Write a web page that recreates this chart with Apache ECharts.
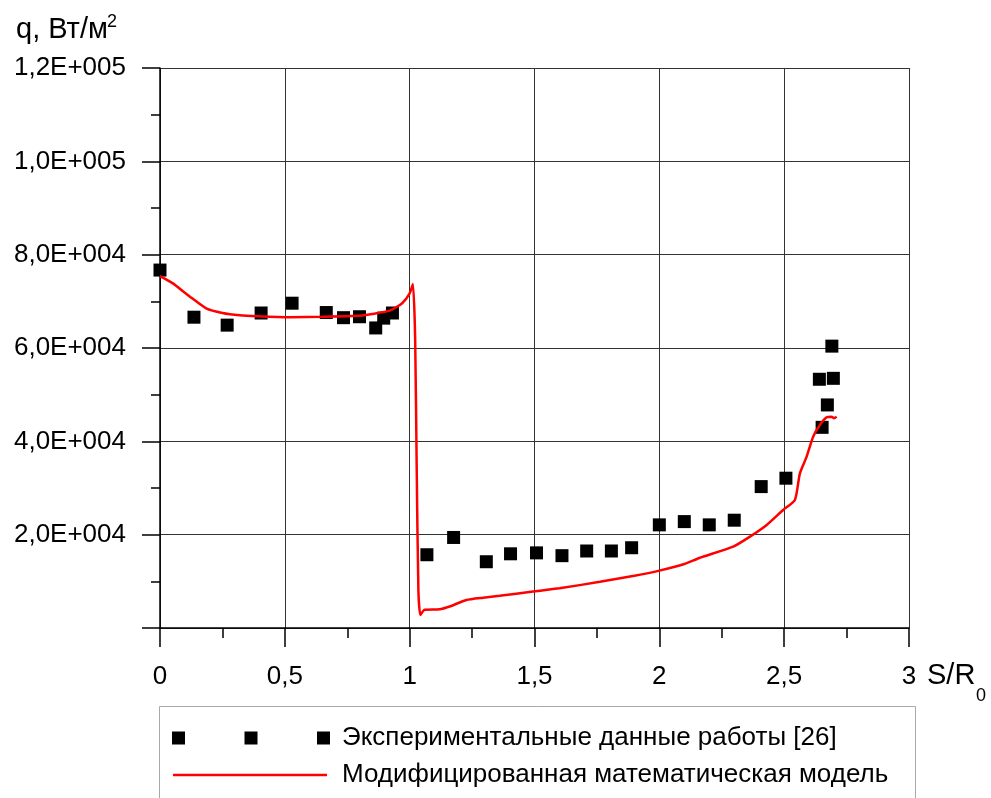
<!DOCTYPE html>
<html>
<head>
<meta charset="utf-8">
<script src="https://cdn.jsdelivr.net/npm/echarts@6/dist/echarts.min.js"></script>
<style>
  html, body { margin: 0; padding: 0; background: #fff; }
  #chart { width: 991px; height: 798px; }
</style>
</head>
<body>
<div id="chart"></div>
<script>
// Experimental points: S/R0 and heat flux q, W/m2
const expX = [0, 0.136, 0.269, 0.405, 0.529, 0.666, 0.735, 0.799, 0.864, 0.896, 0.931,
  1.069, 1.176, 1.307, 1.404, 1.508, 1.61, 1.709, 1.808, 1.889, 2.0, 2.1, 2.2, 2.3,
  2.408, 2.507, 2.641, 2.652, 2.673, 2.691, 2.697];
const expY = [76700, 66600, 64900, 67500, 69600, 67600, 66500, 66700, 64300, 66400, 67500,
  15700, 19400, 14200, 15900, 16100, 15500, 16500, 16500, 17200, 22100, 22800, 22100, 23100,
  30300, 32100, 53300, 43000, 47800, 60400, 53500];

// Modified mathematical model curve
const modelX = [0.0, 0.05, 0.12, 0.185, 0.25, 0.32, 0.39, 0.52, 0.65, 0.79, 0.85, 0.92, 0.97,
  1.0, 1.013, 1.022, 1.028, 1.035, 1.043, 1.06, 1.12, 1.16, 1.227, 1.294, 1.36, 1.494, 1.6,
  1.762, 1.9, 2.0, 2.1, 2.16, 2.296, 2.363, 2.43, 2.496, 2.543, 2.563, 2.59, 2.616, 2.643,
  2.67, 2.69, 2.7, 2.71];
const modelY = [75400, 73900, 71000, 68500, 67500, 67000, 66800, 66600, 66700, 66900, 67300,
  68000, 69600, 71700, 73700, 62000, 35000, 8000, 2800, 3900, 4000, 4600, 6000, 6500, 6900,
  7800, 8500, 9900, 11200, 12300, 13700, 15000, 17430, 19570, 22070, 25290, 27430, 33150,
  36710, 41000, 43500, 45150, 45290, 44940, 45290];

const xTickLabels = ['0', '0,5', '1', '1,5', '2', '2,5', '3'];
const yTickLabels = ['', '2,0E+004', '4,0E+004', '6,0E+004', '8,0E+004', '1,0E+005', '1,2E+005'];

const seriesNames = ['Экспериментальные данные работы [26]', 'Модифицированная математическая модель'];

const FONT = 'Liberation Sans';
const FS = 26;

const chart = echarts.init(document.getElementById('chart'), null, { renderer: 'canvas' });

chart.setOption({
  animation: false,
  backgroundColor: '#ffffff',
  textStyle: { fontFamily: FONT },
  grid: { left: 160, right: 82, top: 68, bottom: 170, containLabel: false },
  xAxis: {
    type: 'value', min: 0, max: 3, interval: 0.5,
    axisLine: { show: true, onZero: false, lineStyle: { color: '#000', width: 1.5 } },
    axisTick: { show: true, length: 19, lineStyle: { color: '#000', width: 1.5 } },
    minorTick: { show: true, splitNumber: 2, length: 10, lineStyle: { color: '#000', width: 1.5 } },
    splitLine: { show: true, lineStyle: { color: '#333', width: 1 } },
    axisLabel: {
      margin: 36, color: '#000', fontSize: FS, fontFamily: FONT,
      formatter: (v) => xTickLabels[Math.round(v / 0.5)]
    }
  },
  yAxis: {
    type: 'value', min: 0, max: 120000, interval: 20000,
    axisLine: { show: true, onZero: false, lineStyle: { color: '#000', width: 1.5 } },
    axisTick: { show: true, length: 18, lineStyle: { color: '#000', width: 1.5 } },
    minorTick: { show: true, splitNumber: 2, length: 9, lineStyle: { color: '#000', width: 1.5 } },
    splitLine: { show: true, lineStyle: { color: '#333', width: 1 } },
    axisLabel: {
      margin: 34, color: '#000', fontSize: FS, fontFamily: FONT,
      formatter: (v) => yTickLabels[Math.round(v / 20000)]
    }
  },
  legend: {
    orient: 'vertical',
    left: 172, top: 725,
    padding: 0,
    itemWidth: 158, itemHeight: 13, itemGap: 11,
    selectedMode: false,
    textStyle: { fontSize: FS, lineHeight: 25, color: '#000', fontFamily: FONT, padding: [0, 0, 0, 7] },
    data: [
      // three square markers spread across the icon box
      { name: seriesNames[0], icon: 'path://M0,0h13v13h-13z M72.5,0h13v13h-13z M145,0h13v13h-13z' },
      // thin line segment; the outer move-to points keep the icon box at full height
      { name: seriesNames[1], icon: 'path://M0,0 M1,5.25h154v2.6h-154z M158,13' }
    ]
  },
  graphic: [
    {
      type: 'rect', left: 159, top: 706, z: -1,
      shape: { width: 756, height: 140 },
      style: { fill: '#fff', stroke: '#a8a8a8', lineWidth: 1 }
    },
    {
      type: 'text', left: 16, top: 15,
      style: { text: 'q, Вт/м', fontSize: 29, fontFamily: FONT, fill: '#000' }
    },
    {
      type: 'text', left: 107, top: 13,
      style: { text: '2', fontSize: 18, fontFamily: FONT, fill: '#000' }
    },
    {
      type: 'text', left: 927, top: 661,
      style: { text: 'S/R', fontSize: 29, fontFamily: FONT, fill: '#000' }
    },
    {
      type: 'text', left: 976, top: 687,
      style: { text: '0', fontSize: 18, fontFamily: FONT, fill: '#000' }
    }
  ],
  series: [
    {
      name: seriesNames[0], type: 'scatter',
      symbol: 'rect', symbolSize: 13,
      itemStyle: { color: '#000', opacity: 1 },
      data: expX.map((x, i) => [x, expY[i]]),
      z: 3
    },
    {
      name: seriesNames[1], type: 'line',
      symbol: 'none', smooth: 0.2,
      lineStyle: { color: '#ff0000', width: 2.5 },
      itemStyle: { color: '#ff0000' },
      data: modelX.map((x, i) => [x, modelY[i]]),
      z: 4
    }
  ]
});
</script>
</body>
</html>
